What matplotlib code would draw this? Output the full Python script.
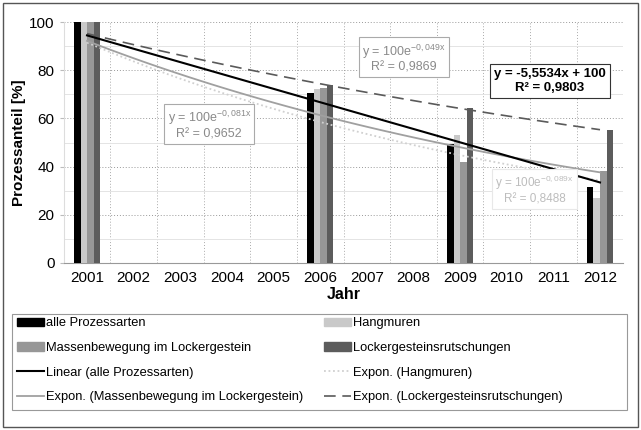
import numpy as np
import matplotlib.pyplot as plt
from matplotlib.patches import Rectangle
from matplotlib.lines import Line2D

plt.rcParams['font.family'] = ['Liberation Sans', 'DejaVu Sans']

# Daten
jahre = ['2001', '2002', '2003', '2004', '2005', '2006',
         '2007', '2008', '2009', '2010', '2011', '2012']
bar_jahre = [2001, 2006, 2009, 2012]
alle = [100, 70.5, 49.5, 31.5]
hangmuren = [100, 72, 53, 27]
massen = [100, 72.5, 42, 38]
locker = [100, 74, 64.5, 55]
r2_labels = ['0,9803', '0,8488', '0,9652', '0,9869']
lin_label = 'y = -5,5534x + 100'

x = np.array(bar_jahre) - 2000  # Excel-Kategorienindex 1..12

fig = plt.figure(figsize=(6.41, 4.30), dpi=100)
ax = fig.add_axes([0.0994, 0.3884, 0.8730, 0.5604])

farben = ['#000000', '#c9c9c9', '#979797', '#5c5c5c']
namen = ['alle Prozessarten', 'Hangmuren',
         'Massenbewegung im Lockergestein', 'Lockergesteinsrutschungen']
reihen = [alle, hangmuren, massen, locker]
breite = 0.14
for i, (werte, farbe) in enumerate(zip(reihen, farben)):
    ax.bar(x + (i - 1.5) * breite, werte, breite, color=farbe, zorder=3)

# Trendlinien (Schnittpunkt fest bei 100)
xs = np.linspace(1, 12, 100)
k_lin = np.sum(x * (np.array(alle) - 100)) / np.sum(x ** 2)
def k_exp(werte):
    return np.sum(x * np.log(np.array(werte) / 100)) / np.sum(x ** 2)
k_hang = k_exp(hangmuren)
k_mass = k_exp(massen)
k_lock = k_exp(locker)

ax.plot(xs, 100 * np.exp(k_hang * xs), color='#d0d0d0', lw=1.3, ls=(0, (1, 1.5)), zorder=4)
ax.plot(xs, 100 * np.exp(k_mass * xs), color='#a0a0a0', lw=1.3, zorder=4)
ax.plot(xs, 100 * np.exp(k_lock * xs), color='#5a5a5a', lw=1.2, ls=(0, (7, 4)), zorder=4)
ax.plot(xs, 100 + k_lin * xs, color='#000000', lw=1.5, zorder=5)

def komma(v):
    return ('%.3f' % v).replace('.', ',')

ax.text(10.93, 75.5, lin_label + '\nR² = ' + r2_labels[0], ha='center', va='center',
        fontsize=9.5, fontweight='bold', color='black', linespacing=1.15, zorder=6,
        bbox=dict(boxstyle='square,pad=0.3', fc='white', ec='#333333', lw=0.8))
ax.text(7.80, 85, 'y = 100e$^{\\mathregular{' + komma(k_lock) + 'x}}$\nR² = ' + r2_labels[3],
        ha='center', va='center', fontsize=9, color='#8a8a8a', linespacing=1.15, zorder=6,
        bbox=dict(boxstyle='square,pad=0.25', fc='white', ec='#aaaaaa', lw=0.8))
ax.text(3.62, 57.3, 'y = 100e$^{\\mathregular{' + komma(k_mass) + 'x}}$\nR² = ' + r2_labels[2],
        ha='center', va='center', fontsize=9, color='#8a8a8a', linespacing=1.15, zorder=6,
        bbox=dict(boxstyle='square,pad=0.25', fc='white', ec='#aaaaaa', lw=0.8))
ax.text(10.6, 30.3, 'y = 100e$^{\\mathregular{' + komma(k_hang) + 'x}}$\nR² = ' + r2_labels[1],
        ha='center', va='center', fontsize=8.5, color='#bdbdbd', linespacing=1.15, zorder=6,
        bbox=dict(boxstyle='square,pad=0.25', fc='white', ec='#e8e8e8', lw=0.8))

ax.set_xlim(0.5, 12.5)
ax.set_ylim(0, 100)
ax.set_xticks(range(1, 13))
ax.set_xticklabels(jahre, fontsize=11)
ax.set_xticks(np.arange(0.5, 13, 1), minor=True)
ax.set_yticks(range(0, 101, 20))
ax.set_yticks(range(10, 100, 20), minor=True)
ax.tick_params(axis='x', which='both', length=0, pad=6)
ax.tick_params(axis='y', which='major', labelsize=11, length=3, color='#bbbbbb')
ax.tick_params(axis='y', which='minor', length=0)
ax.grid(axis='x', which='minor', ls=(0, (1, 2)), color='#aaaaaa', lw=0.7, zorder=0)
ax.grid(axis='y', which='major', ls=(0, (1, 2)), color='#999999', lw=0.7, zorder=0)
ax.grid(axis='y', which='minor', ls='-', color='#e4e4e4', lw=0.7, zorder=0)
for s in ['top', 'right']:
    ax.spines[s].set_visible(False)
ax.spines['left'].set_color('#dddddd')
ax.spines['bottom'].set_color('#999999')
ax.set_xlabel('Jahr', fontsize=11.5, fontweight='bold', labelpad=1)
ax.set_ylabel('Prozessanteil [%]', fontsize=11, fontweight='bold', labelpad=2)

# Legende
handles = [
    Rectangle((0, 0), 1, 1, color=farben[0]),
    Rectangle((0, 0), 1, 1, color=farben[1]),
    Rectangle((0, 0), 1, 1, color=farben[2]),
    Rectangle((0, 0), 1, 1, color=farben[3]),
    Line2D([], [], color='black', lw=1.5),
    Line2D([], [], color='#d0d0d0', lw=1.3, ls=(0, (1, 1.5))),
    Line2D([], [], color='#a0a0a0', lw=1.3),
    Line2D([], [], color='#5a5a5a', lw=1.2, ls=(0, (7, 4))),
]
labels = namen + ['Linear (alle Prozessarten)', 'Expon. (Hangmuren)',
                  'Expon. (Massenbewegung im Lockergestein)',
                  'Expon. (Lockergesteinsrutschungen)']
# Reihenfolge zeilenweise
order = [0, 2, 4, 6, 1, 3, 5, 7]
leg = fig.legend([handles[i] for i in order], [labels[i] for i in order],
                 ncol=2, loc='upper left', bbox_to_anchor=(0.026, 0.262),
                 fontsize=9.3, frameon=False, handlelength=2.1, handletextpad=0.15,
                 borderaxespad=0, labelspacing=0.98, handleheight=0.6,
                 borderpad=0, columnspacing=1.6)

# Rahmen Legende und Gesamtrahmen
fig.patches.append(Rectangle((12 / 641, 1 - 410 / 430), 615 / 641, 96 / 430,
                             transform=fig.transFigure, fill=False, ec='#999999', lw=0.8))
fig.patches.append(Rectangle((0.004, 0.006), 0.992, 0.986, transform=fig.transFigure,
                             fill=False, ec='#555555', lw=1.0))

fig.savefig('out.png', dpi=100)
